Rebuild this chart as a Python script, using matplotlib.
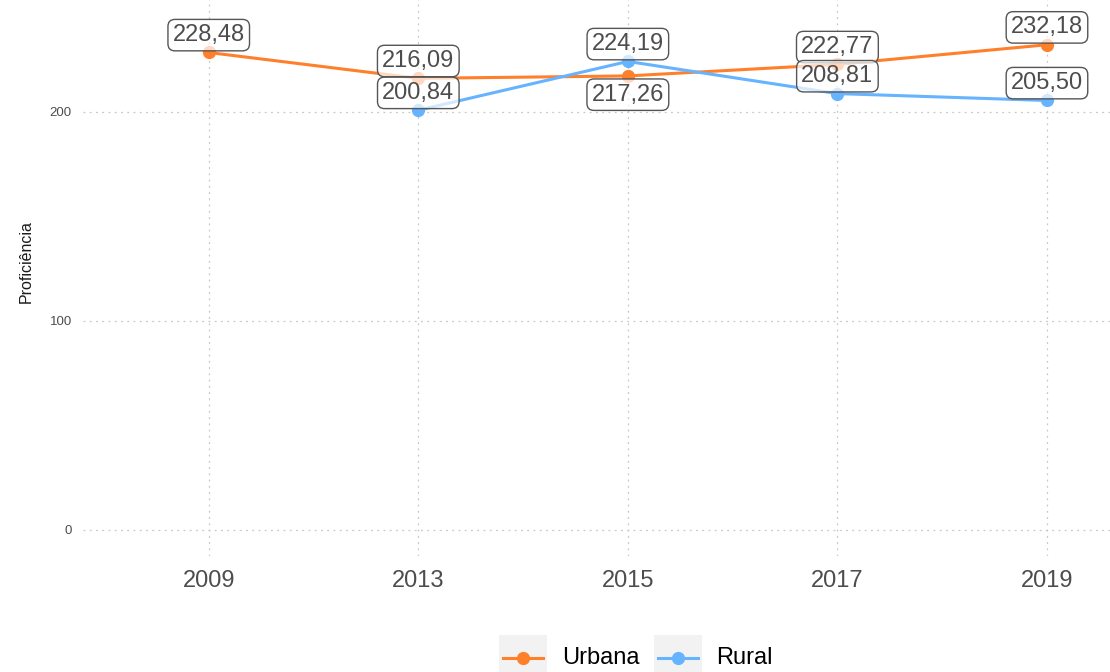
import matplotlib
matplotlib.use("Agg")
import matplotlib.pyplot as plt
from matplotlib.lines import Line2D
from matplotlib.patches import Rectangle
import numpy as np

years = ["2009", "2013", "2015", "2017", "2019"]
urbana = [228.48, 216.09, 217.26, 222.77, 232.18]
rural = [np.nan, 200.84, 224.19, 208.81, 205.50]
# label placement: -1 above point, +1 below point
urbana_pos = [-1, -1, 1, -1, -1]
rural_pos = [0, -1, -1, -1, -1]
yticks = [0, 100, 200]

ORANGE = "#FF7F2A"
BLUE = "#66B3FF"
FONT = "Liberation Sans"

W, H = 1110, 672
fig = plt.figure(figsize=(W / 100, H / 100), dpi=100)
left, right, bottom, top = 83, 1172.7, 556, -18.6
ax = fig.add_axes([left / W, (H - bottom) / H, (right - left) / W, (bottom - top) / H])
ax.set_xlim(-0.6, 4.6)
ax.set_ylim(-12.5, 262.5)
for s in ax.spines.values():
    s.set_visible(False)

x = np.arange(len(years))
ax.set_xticks(x)
ax.set_xticklabels(years, fontsize=17, color="#4D4D4D", family=FONT)
ax.set_yticks(yticks)
ax.set_yticklabels([str(t) for t in yticks], fontsize=9.5, color="#4D4D4D", family=FONT)
ax.tick_params(length=0, pad=8)
ax.tick_params(axis="x", pad=10)
ax.grid(True, linestyle=(0, (1.5, 3.5)), color="#C8C8C8", linewidth=0.9)
ax.set_axisbelow(True)
ax.set_ylabel("Proficiência", fontsize=11.5, family=FONT, color="#1A1A1A")
ax.yaxis.set_label_coords(-0.045, 0.512)

ax.plot(x, urbana, color=ORANGE, lw=2.2, marker="o", ms=8.5, zorder=3)
ax.plot(x, rural, color=BLUE, lw=2.2, marker="o", ms=8.5, zorder=3)

def fmt(v):
    return f"{v:.2f}".replace(".", ",")

bbox = dict(boxstyle="round,pad=0.2,rounding_size=0.3", fc=(1, 1, 1, 0.7), ec="#555555", lw=1.0)
for vals, poss in ((urbana, urbana_pos), (rural, rural_pos)):
    for xi, v, p in zip(x, vals, poss):
        if np.isnan(v) or p == 0:
            continue
        off = -12.5 if p < 0 else 13.5
        ax.annotate(fmt(v), (xi, v), xytext=(0, -off), textcoords="offset points",
                    ha="center", va="center", fontsize=17, color="#4D4D4D", family=FONT,
                    bbox=bbox, zorder=5)

# legend (bottom, manual)
def key(x0, color, label, tx):
    fig.patches.append(Rectangle((x0 / W, 0), 48 / W, (H - 635) / H, transform=fig.transFigure,
                                 facecolor="#F2F2F2", edgecolor="none"))
    yk = (H - 658) / H
    fig.lines.append(Line2D([(x0 + 4) / W, (x0 + 44) / W], [yk, yk], transform=fig.transFigure,
                            color=color, lw=2.2, marker=None))
    fig.lines.append(Line2D([(x0 + 24) / W], [yk], transform=fig.transFigure,
                            color=color, marker="o", ms=8.5, lw=0))
    fig.text(tx / W, yk, label, fontsize=17, family=FONT, color="black", va="center", ha="left")

key(499, ORANGE, "Urbana", 562)
key(654, BLUE, "Rural", 716)

fig.savefig("out.png", dpi=100)
